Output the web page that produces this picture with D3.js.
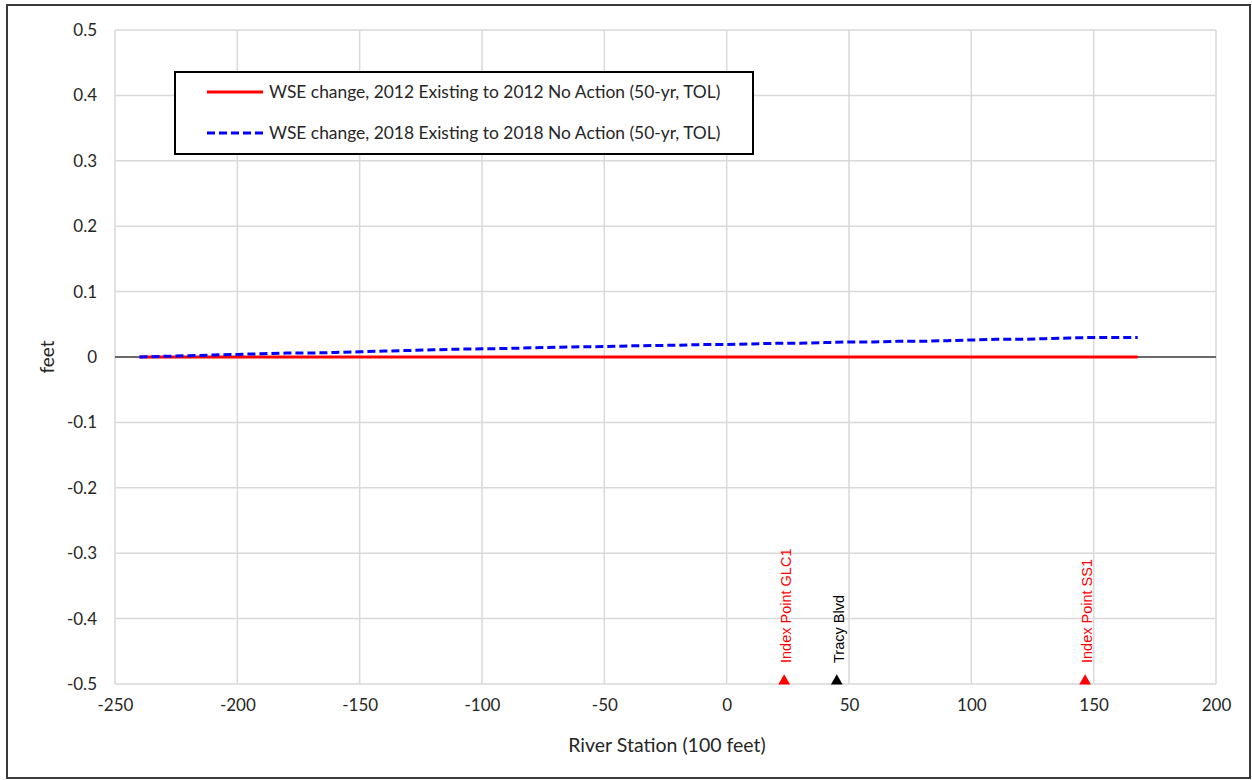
<!DOCTYPE html>
<meta charset="utf-8">
<style>
  body { margin: 0; background: #fff; }
  svg { display: block; }
</style>
<svg width="1252" height="780"></svg>
<script src="https://d3js.org/d3.v7.min.js"></script>
<script>
// river station (100 ft) and WSE change (ft)
var stations2012 = [-240, 168]
var change2012 = [0, 0]

var stations2018 = [-240, -230, -220, -210, -200, -190, -180, -170, -160, -150, -140, -130, -120, -110, -100,
  -90, -80, -70, -60, -50, -40, -30, -20, -10, 0, 10, 20, 30, 40, 50, 60, 70, 80, 90, 100,
  110, 120, 130, 140, 150, 160, 168]
var change2018 = [0, 0.001, 0.002, 0.003, 0.004, 0.005, 0.006, 0.006, 0.007, 0.008, 0.009, 0.010, 0.011, 0.012, 0.0125,
  0.013, 0.014, 0.015, 0.0155, 0.016, 0.017, 0.0175, 0.018, 0.019, 0.019, 0.020, 0.021, 0.021, 0.022, 0.023, 0.023, 0.024, 0.024, 0.025, 0.026,
  0.027, 0.027, 0.028, 0.029, 0.030, 0.030, 0.030]

var seriesNames = [
  'WSE change, 2012 Existing to 2012 No Action (50-yr, TOL)',
  'WSE change, 2018 Existing to 2018 No Action (50-yr, TOL)'
]

var markerNames = ['Index Point GLC1', 'Tracy Blvd', 'Index Point SS1']
var markerStations = [23.5, 45, 146.5]
var markerColors = ['#ff0000', '#000000', '#ff0000']

var xTicks = d3.range(-250, 201, 50)
var yTicks = d3.range(-5, 6).map(d => d / 10)

const svg = d3.select('svg')
const tickFont = 'Lato, "Open Sans", sans-serif'
const fmtY = d => d === 0 ? '0' : d3.format('.1f')(d).replace('\u2212', '-')
const fmtX = d => String(d)

// outer frame
svg.append('rect')
  .attr('x', 7).attr('y', 5)
  .attr('width', 1243).attr('height', 773)
  .attr('fill', 'none')
  .attr('stroke', '#3a3a3a')
  .attr('stroke-width', 2)

const x = d3.scaleLinear().domain([-250, 200]).range([115, 1216])
const y = d3.scaleLinear().domain([-0.5, 0.5]).range([684, 30])

// grid
svg.append('g')
  .selectAll('line')
  .data(xTicks)
  .enter().append('line')
  .attr('x1', d => x(d)).attr('x2', d => x(d))
  .attr('y1', y(0.5)).attr('y2', y(-0.5))
  .attr('stroke', '#d9d9d9')
  .attr('stroke-width', 1.5)

svg.append('g')
  .selectAll('line')
  .data(yTicks)
  .enter().append('line')
  .attr('x1', x(-250)).attr('x2', x(200))
  .attr('y1', d => y(d)).attr('y2', d => y(d))
  .attr('stroke', '#d9d9d9')
  .attr('stroke-width', 1.5)

// zero line
svg.append('line')
  .attr('x1', x(-250)).attr('x2', x(200))
  .attr('y1', y(0)).attr('y2', y(0))
  .attr('stroke', '#404040')
  .attr('stroke-width', 1.5)

// axes
const xAxis = svg.append('g')
  .attr('transform', `translate(0,${y(-0.5)})`)
  .call(d3.axisBottom(x).tickValues(xTicks).tickSize(0).tickPadding(15).tickFormat(fmtX))
xAxis.select('.domain').remove()
xAxis.selectAll('text')
  .attr('font-family', tickFont).attr('font-size', 17).attr('fill', '#262626')

const yAxis = svg.append('g')
  .attr('transform', `translate(${x(-250)},0)`)
  .call(d3.axisLeft(y).tickValues(yTicks).tickSize(0).tickPadding(18).tickFormat(fmtY))
yAxis.select('.domain').remove()
yAxis.selectAll('text')
  .attr('font-family', tickFont).attr('font-size', 17).attr('fill', '#262626')

svg.append('text')
  .attr('x', 667).attr('y', 752)
  .attr('text-anchor', 'middle')
  .attr('font-family', tickFont).attr('font-size', 19.5).attr('fill', '#262626')
  .text('River Station (100 feet)')

svg.append('text')
  .attr('transform', `translate(54,${y(0)}) rotate(-90)`)
  .attr('text-anchor', 'middle')
  .attr('font-family', tickFont).attr('font-size', 19).attr('fill', '#262626')
  .text('feet')

// series
const line = d3.line().x(d => x(d[0])).y(d => y(d[1]))

svg.append('path')
  .datum(d3.zip(stations2012, change2012))
  .attr('d', line)
  .attr('fill', 'none')
  .attr('stroke', '#ff0000')
  .attr('stroke-width', 3)

svg.append('path')
  .datum(d3.zip(stations2018, change2018))
  .attr('d', line)
  .attr('fill', 'none')
  .attr('stroke', '#0000ff')
  .attr('stroke-width', 3)
  .attr('stroke-dasharray', '8,4')

// markers
const tri = d3.symbol().type(d3.symbolTriangle).size(60)
markerNames.forEach((name, i) => {
  svg.append('path')
    .attr('d', tri)
    .attr('transform', `translate(${x(markerStations[i])},${y(-0.5) - 3})`)
    .attr('fill', markerColors[i])
  svg.append('text')
    .attr('transform', `translate(${x(markerStations[i]) + 7},${y(-0.5) - 21}) rotate(-90)`)
    .attr('font-family', '"Liberation Sans", Arial, sans-serif')
    .attr('font-size', 14.5)
    .attr('fill', markerColors[i])
    .text(name)
})

// legend
const legend = svg.append('g')
legend.append('rect')
  .attr('x', 175).attr('y', 72)
  .attr('width', 578).attr('height', 82)
  .attr('fill', '#fff')
  .attr('stroke', '#000')
  .attr('stroke-width', 2)

const legendY = [92, 133]
seriesNames.forEach((name, i) => {
  legend.append('line')
    .attr('x1', 207).attr('x2', 263)
    .attr('y1', legendY[i]).attr('y2', legendY[i])
    .attr('stroke', i === 0 ? '#ff0000' : '#0000ff')
    .attr('stroke-width', 3)
    .attr('stroke-dasharray', i === 0 ? null : '8,4')
  legend.append('text')
    .attr('x', 269).attr('y', legendY[i] + 6)
    .attr('font-family', tickFont).attr('font-size', 17.4).attr('fill', '#262626')
    .text(name)
})
</script>
